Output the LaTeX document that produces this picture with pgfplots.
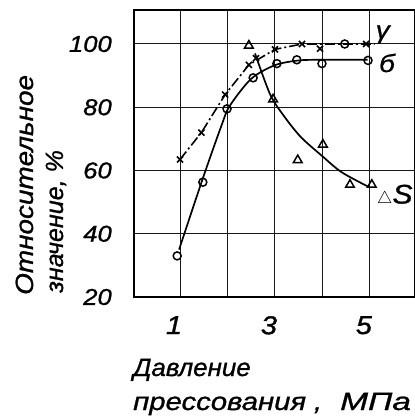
\documentclass[border=0pt]{standalone}
\usepackage{fontspec}
\setmainfont{Liberation Sans}
\newfontfamily\hand[FakeStretch=1.12, FakeBold=1]{Liberation Sans}
\usepackage{pgfplots}
\pgfplotsset{compat=1.18}
\begin{document}
\begin{tikzpicture}
\begin{axis}[name=ax, scale only axis, width=281bp, height=287bp,
  xmin=0.03, xmax=5.95, ymin=20, ymax=110.75,
  xtick={1,2,3,4,5}, xticklabels={1,,3,,5},
  ytick={20,40,60,80,100}, yticklabels={20,40,60,80,100},
  grid=major, major grid style={black!90, line width=1bp},
  axis line style={black, line width=2bp},
  major tick length=0pt,
  xticklabel style={font=\hand\itshape\fontsize{26}{26}\selectfont, anchor=north, inner sep=0pt, yshift=-19bp, xshift=-6bp},
  yticklabel style={font=\hand\itshape\fontsize{23}{23}\selectfont, anchor=east, inner sep=0pt, xshift=-22bp},
  clip=false,
]
% gamma curve (dash-dot)
\addplot[black, line width=1.6bp, dash pattern=on 10bp off 3bp on 2bp off 3bp] coordinates {
 (1,63.5) (1.45,72) (1.95,84) (2.45,93.4) (3,98.3) (3.57,100) (5.1,100)};
\addplot[only marks, mark=x, mark size=4.3bp, black, line width=1.6bp] coordinates {
 (1,63.5) (1.45,72) (1.95,84) (2.45,93.4) (2.6,95.5) (3,98.3) (3.57,100) (3.95,98.5) (4.92,100)};
% b curve
\addplot[black, line width=1.7bp, smooth, tension=0.5] coordinates {
 (0.98,35) (1.48,57.5) (1.88,74.5) (2.05,80.5) (2.5,89) (3,93.3) (3.5,94.8) (4,95) (4.95,95)};
\addplot[only marks, mark=o, mark size=4bp, black, line width=1.5bp, fill=white] coordinates {
 (0.94,33) (1.48,56.3) (1.99,79.5) (2.54,89.3) (3.04,93.8) (3.46,95) (3.99,93.8) (4.47,100) (4.96,94.8)};
% S curve
\addplot[black, line width=1.7bp, smooth, tension=0.5] coordinates {
 (2.58,97) (2.9,84) (3.2,77) (3.55,70.5) (4.0,64.5) (4.4,59.5) (4.95,55)};
\addplot[only marks, mark=triangle, mark size=5bp, black, line width=1.5bp, fill=white] coordinates {
 (2.45,99.5) (2.96,82.5) (3.48,63.3) (4.01,68.2) (4.58,55.5) (5.04,55.5)};
% curve labels
\node[font=\hand\itshape\fontsize{25}{25}\selectfont] at (axis cs:5.27,103) {γ};
\node[font=\hand\itshape\fontsize{25}{25}\selectfont] at (axis cs:5.36,94) {б};
\node[font=\hand\itshape\fontsize{27}{27}\selectfont, anchor=west, inner sep=0pt] at (axis cs:5.15,52) {$\scriptstyle\triangle$S};
\end{axis}
\node[rotate=90, anchor=base west, inner sep=0pt, font=\hand\itshape\fontsize{25}{25}\selectfont] at ([shift={(-101bp,2bp)}]ax.south west) {Относительное};
\node[rotate=90, anchor=base west, inner sep=0pt, font=\hand\itshape\fontsize{25}{25}\selectfont] at ([shift={(-71bp,4bp)}]ax.south west) {\scalebox{0.9}[1]{значение,\ \%}};
\node[anchor=base west, inner sep=0pt, font=\hand\itshape\fontsize{25}{25}\selectfont] at ([shift={(-1bp,-79bp)}]ax.south west) {\scalebox{0.93}[1]{Давление}};
\node[anchor=base west, inner sep=0pt, font=\hand\itshape\fontsize{25}{25}\selectfont] at ([shift={(-1bp,-113bp)}]ax.south west) {\scalebox{1.05}[1]{прессования}};
\node[anchor=base, inner sep=0pt, font=\hand\itshape\fontsize{25}{25}\selectfont] at ([shift={(184bp,-113bp)}]ax.south west) {,};
\node[anchor=base west, inner sep=0pt, font=\hand\itshape\fontsize{25}{25}\selectfont] at ([shift={(206bp,-113bp)}]ax.south west) {\scalebox{1.2}[1]{МПа}};
\pgfresetboundingbox
\path[use as bounding box] ([shift={(-134bp,-121bp)}]ax.south west) rectangle ([shift={(0bp,10bp)}]ax.north east);
\end{tikzpicture}
\end{document}
